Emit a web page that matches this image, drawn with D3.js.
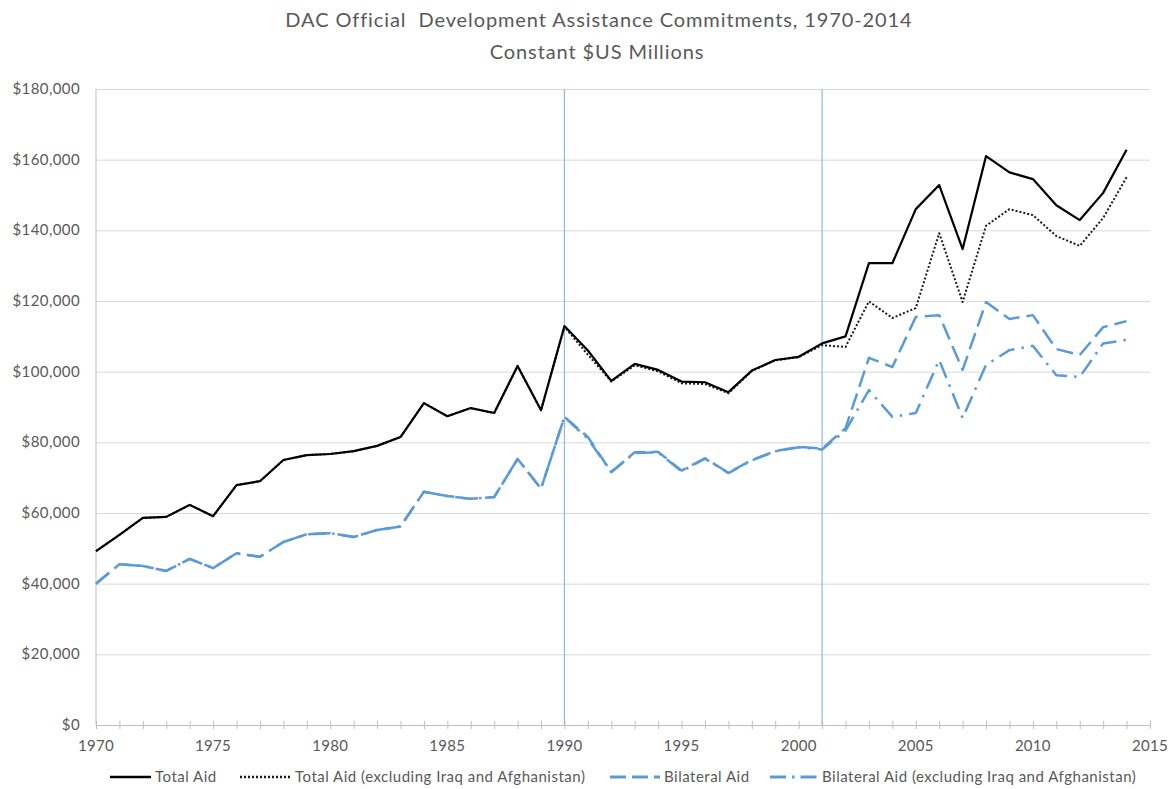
<!DOCTYPE html>
<html>
<head>
<meta charset="utf-8">
<script src="https://cdn.jsdelivr.net/npm/d3@7"></script>
<style>
  html, body { margin: 0; padding: 0; background: #fff; }
  svg text { font-family: Lato, "Liberation Sans Narrow", "Open Sans", sans-serif; fill: #595959; }
  .grid line { stroke: #d9d9d9; stroke-width: 1; }
  .grid .domain { display: none; }
</style>
</head>
<body>
<svg id="chart" width="1173" height="789"></svg>
<script>
/* ── DAC ODA commitments, 1970–2014 ───────────────────── */

const years = d3.range(1970, 2015);

const totalAid = [
  49200, 53800, 58600, 58900, 62300, 59100, 67900, 69000, 75000, 76400,
  76700, 77500, 79000, 81500, 91100, 87400, 89700, 88300, 101600, 89100,
  112900, 106000, 97400, 102200, 100500, 97200, 97000, 94200, 100300, 103300,
  104200, 108000, 110000, 130700, 130700, 146000, 152800, 134700, 161000, 156400,
  154500, 147100, 142900, 150600, 162800
];

const totalAidExcl = [
  49200, 53800, 58600, 58900, 62300, 59100, 67900, 69000, 75000, 76400,
  76700, 77500, 79000, 81500, 91100, 87400, 89700, 88300, 101600, 89100,
  112700, 104800, 97200, 101800, 100100, 96700, 96500, 93900, 100200, 103200,
  104100, 107500, 107000, 119900, 115200, 118000, 139200, 119700, 141300, 146000,
  144300, 138400, 135600, 143500, 155000
];

const bilateral = [
  40000, 45500, 45000, 43600, 47000, 44400, 48600, 47600, 51800, 54000,
  54300, 53200, 55200, 56200, 66000, 64800, 64000, 64500, 75300, 66900,
  87200, 81500, 71600, 77200, 77300, 72000, 75500, 71400, 75000, 77500,
  78700, 78200, 84000, 103900, 101300, 115500, 116000, 100500, 119700, 114900,
  116000, 106400, 104700, 112600, 114300
];

const bilateralExcl = [
  40000, 45500, 45000, 43600, 47000, 44400, 48600, 47600, 51800, 54000,
  54300, 53200, 55200, 56200, 66000, 64800, 64000, 64500, 75300, 66900,
  87200, 81000, 71600, 77000, 77200, 71800, 75400, 71300, 74900, 77400,
  78600, 78000, 83300, 94800, 87200, 88300, 103300, 86900, 101900, 106100,
  107300, 99000, 98500, 108000, 109000
];

const markerYears = [1990, 2001];
const yTicks = d3.range(0, 180001, 20000);
const xTicks = d3.range(1970, 2016, 5);

const seriesList = [
  { name: 'Total Aid', values: totalAid, color: '#000000', width: 2.2, dash: null, legDash: null },
  { name: 'Total Aid (excluding Iraq and Afghanistan)', values: totalAidExcl, color: '#1a1a1a', width: 2, dash: '2,2', legDash: '2,2' },
  { name: 'Bilateral Aid', values: bilateral, color: '#5b9bd5', width: 2.5, dash: '17,7', legDash: '16,6' },
  { name: 'Bilateral Aid (excluding Iraq and Afghanistan)', values: bilateralExcl, color: '#5b9bd5', width: 2.5, dash: '17,7,2.5,7', legDash: '16,6,2.5,6' }
];

const svg = d3.select('#chart');
const marginL = 96, marginR = 23, marginT = 89, marginB = 64;
const width = 1173, height = 789;
const plotW = width - marginL - marginR;
const plotH = height - marginT - marginB;

const x = d3.scaleLinear().domain([1970, 2015]).range([0, plotW]);
const y = d3.scaleLinear().domain([0, 180000]).range([plotH, 0]);

const g = svg.append('g').attr('transform', `translate(${marginL},${marginT})`);

// Title
svg.append('text')
  .attr('x', 599).attr('y', 27)
  .attr('text-anchor', 'middle')
  .attr('font-size', 20)
  .attr('letter-spacing', 0.9)
  .text('DAC Official\u00a0 Development Assistance Commitments, 1970-2014');
svg.append('text')
  .attr('x', 597).attr('y', 59)
  .attr('text-anchor', 'middle')
  .attr('font-size', 20)
  .attr('letter-spacing', 0.9)
  .text('Constant $US Millions');

// Grid lines
g.append('g')
  .attr('class', 'grid')
  .call(d3.axisLeft(y).tickValues(yTicks).tickSize(-plotW).tickFormat(''));

// Y labels
g.selectAll('.ylab')
  .data(yTicks)
  .join('text')
  .attr('class', 'ylab')
  .attr('x', -16)
  .attr('y', d => y(d) + 5)
  .attr('text-anchor', 'end')
  .attr('font-size', 15)
  .attr('letter-spacing', 0.4)
  .text(d => '$' + d3.format(',')(d));

// Y axis line
g.append('line')
  .attr('x1', 0).attr('x2', 0)
  .attr('y1', 0).attr('y2', plotH)
  .attr('stroke', '#bfbfbf');

// X axis with a tick each year
const xAxis = g.append('g')
  .attr('transform', `translate(0,${plotH})`)
  .call(d3.axisBottom(x).tickValues(d3.range(1970, 2016)).tickSize(0).tickFormat(''));
xAxis.select('.domain').attr('stroke', '#bfbfbf');
xAxis.selectAll('.tick line').remove();
xAxis.selectAll('.tick')
  .append('line')
  .attr('y1', -4).attr('y2', 4)
  .attr('stroke', '#bfbfbf');

g.selectAll('.xlab')
  .data(xTicks)
  .join('text')
  .attr('class', 'xlab')
  .attr('x', d => x(d))
  .attr('y', plotH + 26)
  .attr('text-anchor', 'middle')
  .attr('font-size', 15)
  .attr('letter-spacing', 0.3)
  .text(d => d);

// Vertical marker lines
g.selectAll('.marker')
  .data(markerYears)
  .join('line')
  .attr('class', 'marker')
  .attr('x1', d => x(d)).attr('x2', d => x(d))
  .attr('y1', y(180000)).attr('y2', plotH)
  .attr('stroke', '#8fb8e0')
  .attr('stroke-width', 1.2);

// Series lines
const line = d3.line()
  .x((d, i) => x(years[i]))
  .y(d => y(d));

// draw bilateral first, then total lines on top
[seriesList[3], seriesList[2], seriesList[1], seriesList[0]].forEach(s => {
  g.append('path')
    .datum(s.values)
    .attr('fill', 'none')
    .attr('stroke', s.color)
    .attr('stroke-width', s.width)
    .attr('stroke-dasharray', s.dash)
    .attr('stroke-linejoin', 'round')
    .attr('d', line);
});

// Legend (text start positions)
const legendTextX = [155, 295, 664, 822];
const legendSampleX = [110, 240, 610, 770];
const legend = svg.append('g').attr('transform', 'translate(0,777)');
seriesList.forEach((s, i) => {
  legend.append('line')
    .attr('x1', legendSampleX[i]).attr('x2', legendTextX[i] - 4)
    .attr('y1', 0).attr('y2', 0)
    .attr('stroke', s.color)
    .attr('stroke-width', s.width + 0.5)
    .attr('stroke-dasharray', s.legDash);
  legend.append('text')
    .attr('x', legendTextX[i])
    .attr('y', 5)
    .attr('font-size', 15)
    .attr('letter-spacing', 0.5)
    .text(s.name);
});
</script>
</body>
</html>
